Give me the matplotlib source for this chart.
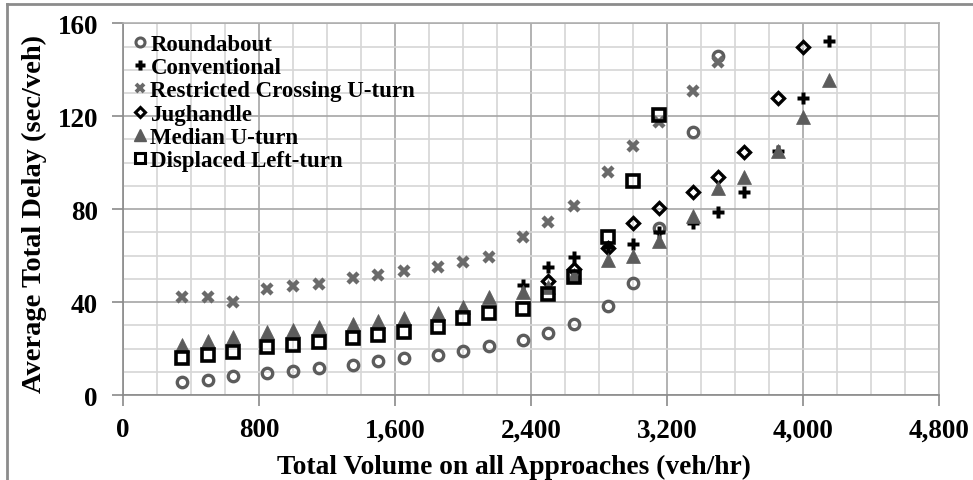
import matplotlib
matplotlib.use("Agg")
import matplotlib.pyplot as plt
from matplotlib.lines import Line2D
from matplotlib.ticker import MultipleLocator, FuncFormatter

plt.rcParams['font.family'] = ['Liberation Serif', 'DejaVu Serif']
plt.rcParams['font.weight'] = 'bold'

# Total volume on all approaches (veh/hr)
volume = [350, 500, 650, 850, 1000, 1150, 1350, 1500, 1650, 1850, 2000, 2150,
          2350, 2500, 2650, 2850, 3000, 3150, 3350, 3500, 3650, 3850, 4000, 4150]

# Average total delay (sec/veh) per intersection type
roundabout = [5.5, 6.6, 8.0, 9.5, 10.3, 11.7, 13.0, 14.8, 15.8, 17.3, 18.8, 21.2,
              23.8, 26.7, 30.6, 38.5, 48.1, 71.9, 113.0, 146.0]
conventional_vol = [2350, 2500, 2650, 2850, 3000, 3150, 3350, 3500, 3650, 3850, 4000, 4150]
conventional = [47.5, 55.0, 59.5, 63.5, 65.0, 70.0, 74.0, 78.6, 87.2, 105.0, 128.0, 152.5]
rcut = [42.0, 42.3, 40.2, 45.6, 47.0, 47.8, 50.4, 51.8, 53.3, 55.2, 57.1, 59.2,
        67.9, 74.3, 81.2, 96.1, 107.3, 117.4, 130.7, 143.2]
jughandle_vol = [2500, 2650, 2850, 3000, 3150, 3350, 3500, 3650, 3850, 4000]
jughandle = [49.2, 54.2, 63.3, 74.0, 80.7, 87.2, 93.7, 104.5, 127.8, 149.7]
median_uturn = [21.5, 23.4, 24.8, 27.0, 28.0, 29.1, 30.5, 31.8, 33.2, 35.3, 37.8, 42.0,
                44.2, 46.5, 51.5, 58.0, 60.0, 66.2, 77.2, 89.0, 93.7, 105.2, 119.5, 135.7]
displaced_left = [15.9, 17.3, 18.4, 20.5, 21.7, 22.7, 24.7, 25.8, 27.0, 29.1, 33.1, 35.4,
                  37.0, 43.5, 50.6, 67.9, 92.0, 120.5]

x_ticks = [0, 800, 1600, 2400, 3200, 4000, 4800]
y_ticks = [0, 40, 80, 120, 160]

GRAY = '#5c5c5c'
XGRAY = '#6a6a6a'
BLACK = '#000000'

fig = plt.figure(figsize=(9.73, 4.81), dpi=100)
ax = fig.add_axes([0.1264, 0.1767, 0.8387, 0.7728])

ax.set_xlim(0, 4800)
ax.set_ylim(0, 160)
ax.set_xticks(x_ticks)
ax.set_yticks(y_ticks)
ax.xaxis.set_minor_locator(MultipleLocator(200))
ax.yaxis.set_minor_locator(MultipleLocator(10))
ax.xaxis.set_major_formatter(FuncFormatter(lambda v, p: f"{int(v):,}"))

ax.grid(which='minor', color='#d6d6d6', linewidth=1.2, zorder=0)
ax.grid(which='major', color='#a6a6a6', linewidth=1.2, zorder=0)
ax.set_axisbelow(True)
for side in ('top', 'right'):
    ax.spines[side].set_color('#b0b0b0')
    ax.spines[side].set_linewidth(1.2)
for side in ('left', 'bottom'):
    ax.spines[side].set_color('#8a8a8a')
    ax.spines[side].set_linewidth(1.2)

ax.tick_params(which='major', direction='out', length=8, width=1.2, color='#8a8a8a',
               labelsize=19.5)
ax.tick_params(axis='x', pad=8)
ax.tick_params(axis='y', pad=10)
ax.tick_params(which='minor', length=0)
for lab in ax.get_xticklabels() + ax.get_yticklabels():
    lab.set_fontweight('bold')

mk = dict(linestyle='none', zorder=3)
ax.plot(volume[:len(roundabout)], roundabout, marker='o', ms=7.5, mfc='none', mec=GRAY, mew=2.4, **mk)
ax.plot(conventional_vol, conventional, marker='P', ms=8, mfc=BLACK, mec='none', **mk)
ax.plot(volume[:len(rcut)], rcut, marker='x', ms=7, mec=XGRAY, mew=3.2, **mk)
ax.plot(jughandle_vol, jughandle, marker='D', ms=6.5, mfc='none', mec=BLACK, mew=2.4, **mk)
ax.plot(volume, median_uturn, marker='^', ms=9.5, mfc=GRAY, mec=GRAY, mew=0.5, **mk)
ax.plot(volume[:len(displaced_left)], displaced_left, marker='s', ms=8, mfc='none', mec=BLACK, mew=2.6, **mk)

handles = [
    Line2D([], [], marker='o', ms=6.5, mfc='none', mec=GRAY, mew=2.2, linestyle='none'),
    Line2D([], [], marker='P', ms=7, mfc=BLACK, mec='none', linestyle='none'),
    Line2D([], [], marker='x', ms=6, mec=XGRAY, mew=2.8, linestyle='none'),
    Line2D([], [], marker='D', ms=5.5, mfc='none', mec=BLACK, mew=2.2, linestyle='none'),
    Line2D([], [], marker='^', ms=8, mfc=GRAY, mec=GRAY, linestyle='none'),
    Line2D([], [], marker='s', ms=7, mfc='none', mec=BLACK, mew=2.2, linestyle='none'),
]
labels = ['Roundabout', 'Conventional', 'Restricted Crossing U-turn',
          'Jughandle', 'Median U-turn', 'Displaced Left-turn']
leg = ax.legend(handles, labels, loc='upper left', bbox_to_anchor=(0.0, 1.0),
                frameon=False, handlelength=0.55, handletextpad=0.2,
                labelspacing=0.1, borderaxespad=0.2, borderpad=0.25,
                prop={'family': 'Liberation Serif', 'weight': 'bold', 'size': 16.5})

ax.set_xlabel('Total Volume on all Approaches (veh/hr)', fontsize=19.8, fontweight='bold')
ax.xaxis.set_label_coords(0.479, -0.157)
ax.set_ylabel('Average Total Delay (sec/veh)', fontsize=20.5, fontweight='bold')
ax.yaxis.set_label_coords(-0.093, 0.49)

# outer chart frame
fig.add_artist(Line2D([7 / 973, 7 / 973], [0, 1 - 5 / 481], transform=fig.transFigure,
                      color='#8c8c8c', linewidth=2))
fig.add_artist(Line2D([7 / 973, 1], [1 - 5 / 481, 1 - 5 / 481], transform=fig.transFigure,
                      color='#8c8c8c', linewidth=2))

fig.savefig('out.png', dpi=100)
